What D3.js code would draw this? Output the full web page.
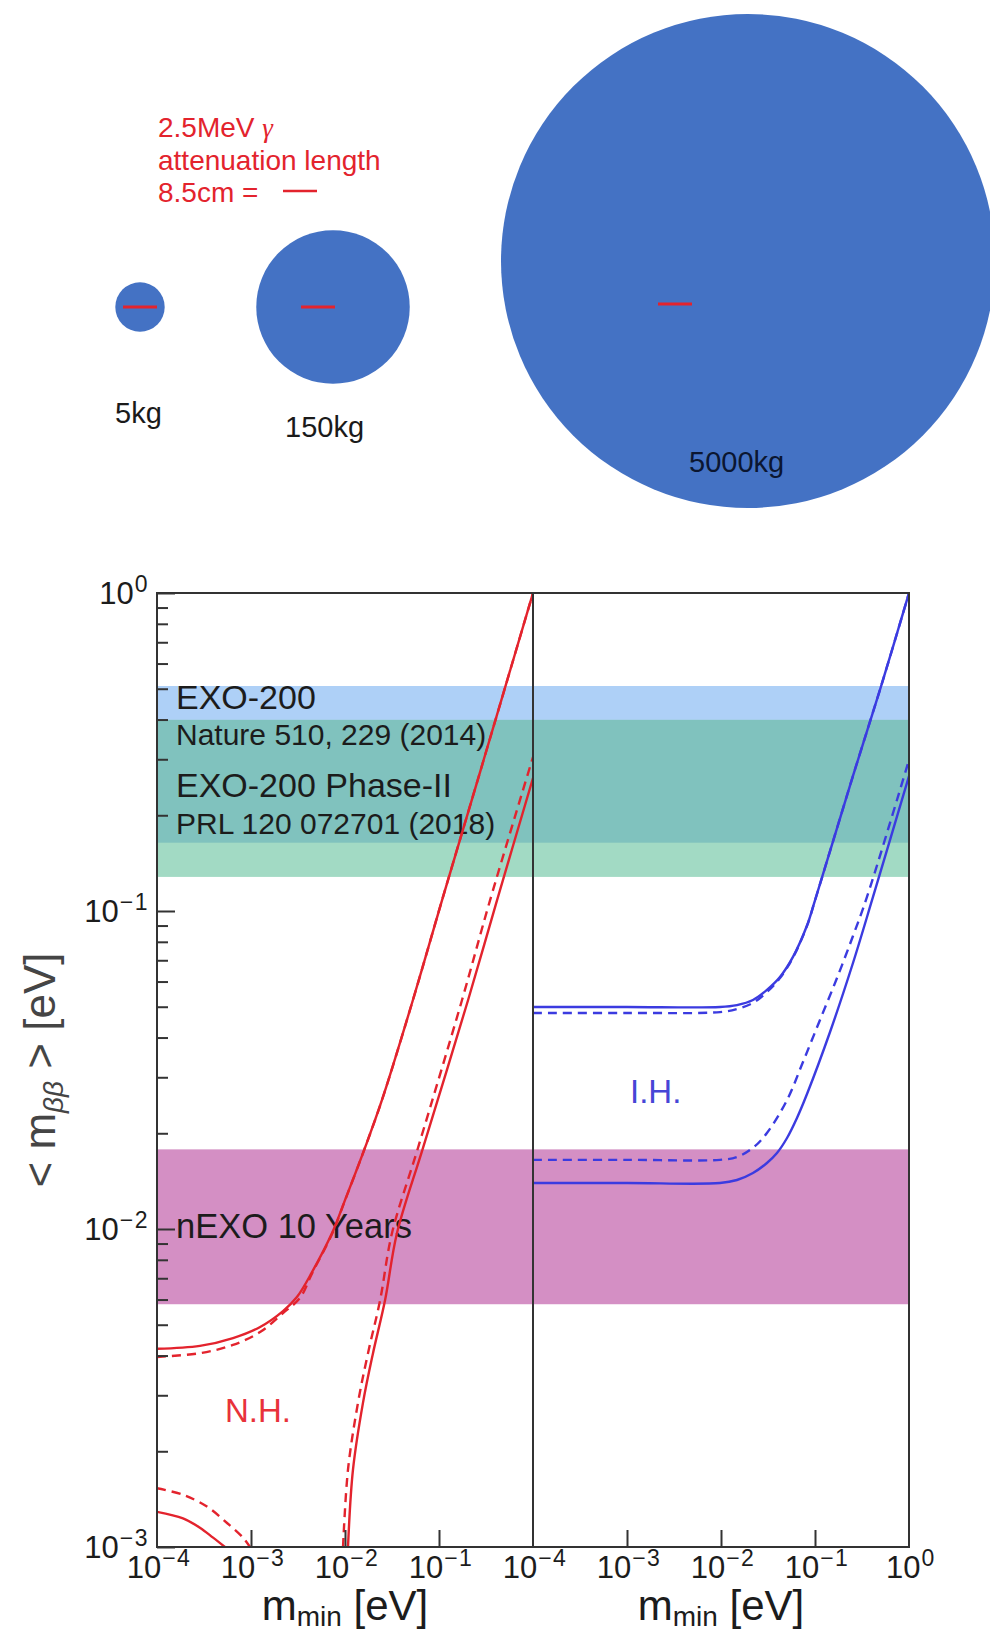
<!DOCTYPE html>
<html>
<head>
<meta charset="utf-8">
<script src="https://cdn.jsdelivr.net/npm/d3@7"></script>
<style>
  html, body { margin: 0; padding: 0; background: #fff; }
  svg { display: block; }
  text { font-family: "Liberation Sans", Arial, Helvetica, sans-serif; }
</style>
</head>
<body>
<svg id="fig" width="990" height="1631"></svg>
<script>
// ---------------- data ----------------
// Xe detector masses (kg), drawn as spheres with radius ∝ mass^(1/3)
const detectorMasses = [5, 150, 5000];
const detectorLabels = ["5kg", "150kg", "5000kg"];
const attenuationLines = ["2.5MeV ", "attenuation length", "8.5cm ="];

// experimental sensitivity bands on <m_bb> (eV)
const bandNames = ["EXO-200", "EXO-200 Phase-II", "nEXO 10 Years"];
const bandRefs = ["Nature 510, 229 (2014)", "PRL 120 072701 (2018)", ""];
const bandLow = [0.164, 0.128, 0.0058];
const bandHigh = [0.510, 0.399, 0.0178];

// axis ticks
const xMajorTicks = [1e-3, 1e-2, 1e-1];
const xLabelsLeft = [1e-4, 1e-3, 1e-2, 1e-1];
const xLabelsRight = [1e-4, 1e-3, 1e-2, 1e-1, 1];
const yMajorTicks = [1, 0.1, 0.01, 0.001];
const yMinorTicks = [0.9, 0.8, 0.7, 0.6, 0.5, 0.4, 0.3, 0.2,
                     0.09, 0.08, 0.07, 0.06, 0.05, 0.04, 0.03, 0.02,
                     0.009, 0.008, 0.007, 0.006, 0.005, 0.004, 0.003, 0.002];

// normal hierarchy: m_min (eV) vs <m_bb> (eV)
const nhMaxSolidM = [1e-4, 2.86e-4, 6.44e-4, 1.25e-3, 2.19e-3, 3.08e-3, 4.46e-3, 7.28e-3, 0.0100, 0.0163, 0.0248, 0.0528, 0.1076, 0.30, 1.0];
const nhMaxSolidV = [0.00420, 0.00429, 0.00454, 0.00492, 0.00552, 0.00611, 0.00732, 0.00971, 0.01233, 0.0180, 0.0255, 0.0525, 0.108, 0.30, 1.0];
const nhMaxDashM = [1e-4, 2.86e-4, 6.44e-4, 1.25e-3, 2.19e-3, 3.32e-3, 4.46e-3, 7.28e-3, 0.0100, 0.0163, 0.0248, 0.0528, 0.1076, 0.30, 1.0];
const nhMaxDashV = [0.00396, 0.00407, 0.00432, 0.00474, 0.00544, 0.00607, 0.00725, 0.00965, 0.0123, 0.0180, 0.0255, 0.0525, 0.108, 0.30, 1.0];
const nhMinSolidLoM = [1e-4, 1.89e-4, 2.86e-4, 3.95e-4, 5.28e-4];
const nhMinSolidLoV = [0.00129, 0.00123, 0.00115, 0.00107, 0.00100];
const nhMinSolidHiM = [0.01076, 0.01216, 0.01553, 0.01986, 0.0267, 0.0357, 0.0676, 0.204, 0.414, 1.0];
const nhMinSolidHiV = [0.00100, 0.00175, 0.00284, 0.00407, 0.00598, 0.0097, 0.0180, 0.0525, 0.108, 0.262];
const nhMinDashLoM = [1e-4, 1.89e-4, 3.40e-4, 5.56e-4, 8.22e-4, 9.75e-4];
const nhMinDashLoV = [0.00153, 0.00146, 0.00134, 0.00119, 0.00107, 0.00100];
const nhMinDashHiM = [0.00953, 0.01076, 0.01374, 0.01757, 0.02355, 0.0316, 0.0598, 0.1758, 0.349, 1.0];
const nhMinDashHiV = [0.00100, 0.00175, 0.00284, 0.00407, 0.00594, 0.0097, 0.0180, 0.0525, 0.108, 0.305];

// inverted hierarchy
const ihMaxSolidM = [1e-4, 1e-3, 0.00975, 0.01479, 0.02188, 0.0308, 0.0424, 0.0583, 0.0822, 0.100, 0.2535, 0.528, 1.0];
const ihMaxSolidV = [0.0499, 0.0499, 0.0499, 0.0506, 0.0525, 0.0565, 0.0620, 0.0717, 0.0900, 0.108, 0.266, 0.532, 1.0];
const ihMaxDashM = [1e-4, 1e-3, 0.00975, 0.01479, 0.02188, 0.0308, 0.0424, 0.0583, 0.0822, 0.100, 0.2535, 0.528, 1.0];
const ihMaxDashV = [0.0478, 0.0478, 0.0481, 0.0492, 0.0514, 0.0556, 0.0615, 0.0714, 0.0898, 0.108, 0.266, 0.532, 1.0];
const ihMinSolidM = [1e-4, 1e-3, 0.00975, 0.01479, 0.02188, 0.0308, 0.0394, 0.0504, 0.0643, 0.0822, 0.1445, 0.2535, 0.414, 1.0];
const ihMinSolidV = [0.01395, 0.01395, 0.01395, 0.01426, 0.0150, 0.01613, 0.01734, 0.01933, 0.02234, 0.02657, 0.04164, 0.06862, 0.1107, 0.2657];
const ihMinDashM = [1e-4, 1e-3, 0.00975, 0.01479, 0.02188, 0.0308, 0.0504, 0.0745, 0.1130, 0.1714, 0.2535, 0.3573, 1.0];
const ihMinDashV = [0.0165, 0.0165, 0.0165, 0.01684, 0.0180, 0.02004, 0.02544, 0.03351, 0.04544, 0.06155, 0.08344, 0.1107, 0.2985];

// ---------------- drawing ----------------
const svg = d3.select("#fig");
svg.append("rect").attr("width", 990).attr("height", 1631).attr("fill", "#fff");

const RED = "#e3232d";
const BLUE = "#3b3be0";
const INK = "#1c1c1c";

// ---- sphere size comparison ----
const sphereLayout = [
  { cx: 140, cy: 307, lx: 115, ly: 423, segX: 123, segY: 307, ink: "#1a1a1a" },
  { cx: 333, cy: 307, lx: 285, ly: 437, segX: 301, segY: 307, ink: "#1a1a1a" },
  { cx: 748, cy: 261, lx: 689, ly: 472, segX: 658, segY: 304, ink: "#0b1631" }
];
const segLen = 34; // 8.5 cm attenuation length on the drawing scale
const rScale = d3.scalePow().exponent(1 / 3).domain([0, 5000]).range([0, 247]);

const spheres = svg.append("g");
detectorMasses.forEach((m, i) => {
  const L = sphereLayout[i];
  spheres.append("circle")
    .attr("cx", L.cx).attr("cy", L.cy).attr("r", rScale(m))
    .attr("fill", "#4472c4");
  spheres.append("line")
    .attr("x1", L.segX).attr("x2", L.segX + segLen)
    .attr("y1", L.segY).attr("y2", L.segY)
    .attr("stroke", RED).attr("stroke-width", 3);
  spheres.append("text")
    .attr("x", L.lx).attr("y", L.ly)
    .attr("font-family", "Lato, 'Open Sans', sans-serif")
    .attr("font-size", 29).attr("fill", L.ink)
    .text(detectorLabels[i]);
});

const att = svg.append("g").attr("fill", RED).attr("font-size", 28);
const attBase = [137, 170, 202];
attenuationLines.forEach((s, i) => {
  const t = att.append("text").attr("x", 158).attr("y", attBase[i]).text(s);
  if (i === 0) {
    t.append("tspan")
      .attr("font-family", "'Liberation Serif', 'Times New Roman', serif")
      .attr("font-style", "italic").attr("font-size", 27)
      .text("γ");
  }
});
att.append("line")
  .attr("x1", 283).attr("x2", 283 + segLen).attr("y1", 191).attr("y2", 191)
  .attr("stroke", RED).attr("stroke-width", 2.5);

// ---- m_bb vs m_min panels ----
const P = { top: 593, bottom: 1547, left: 157, mid: 533, right: 909 };
const y = d3.scaleLog().domain([1e-3, 1]).range([P.bottom, P.top]);
const xL = d3.scaleLog().domain([1e-4, 1]).range([P.left, P.mid]);
const xR = d3.scaleLog().domain([1e-4, 1]).range([P.mid, P.right]);

const defs = svg.append("defs");
defs.append("clipPath").attr("id", "clipL").append("rect")
  .attr("x", P.left).attr("y", P.top).attr("width", P.mid - P.left).attr("height", P.bottom - P.top);
defs.append("clipPath").attr("id", "clipR").append("rect")
  .attr("x", P.mid).attr("y", P.top).attr("width", P.right - P.mid).attr("height", P.bottom - P.top);

// bands: EXO-200, Phase-II, their overlap, nEXO
const bands = svg.append("g");
const bandColors = ["#aed0f7", "#a2dac4", "#d48fc4"];
[0, 1, 2].forEach(i => {
  bands.append("rect")
    .attr("x", P.left).attr("width", P.right - P.left)
    .attr("y", y(bandHigh[i])).attr("height", y(bandLow[i]) - y(bandHigh[i]))
    .attr("fill", bandColors[i]);
});
const ovHi = Math.min(bandHigh[0], bandHigh[1]);
const ovLo = Math.max(bandLow[0], bandLow[1]);
bands.append("rect")
  .attr("x", P.left).attr("width", P.right - P.left)
  .attr("y", y(ovHi)).attr("height", y(ovLo) - y(ovHi))
  .attr("fill", "#80c2be");

// band annotations
const ann = svg.append("g").attr("fill", INK);
const annLayout = [
  { t: bandNames[0], size: 34, yb: 709 },
  { t: bandRefs[0], size: 30, yb: 745 },
  { t: bandNames[1], size: 34, yb: 797 },
  { t: bandRefs[1], size: 30, yb: 834 },
  { t: bandNames[2], size: 34.5, yb: 1238 }
];
annLayout.forEach(a => {
  ann.append("text").attr("x", 176).attr("y", a.yb).attr("font-size", a.size).text(a.t);
});

// curves
const zip = (ms, vs) => ms.map((m, i) => [m, vs[i]]);
function drawCurve(xs, pts, color, dashed, clip) {
  const line = d3.line().x(d => xs(d[0])).y(d => y(d[1])).curve(d3.curveCatmullRom.alpha(0.5));
  svg.append("path")
    .attr("clip-path", `url(#${clip})`)
    .attr("d", line(pts))
    .attr("fill", "none")
    .attr("stroke", color)
    .attr("stroke-width", 2.4)
    .attr("stroke-dasharray", dashed ? "9,6" : null);
}
drawCurve(xL, zip(nhMaxSolidM, nhMaxSolidV), RED, false, "clipL");
drawCurve(xL, zip(nhMaxDashM, nhMaxDashV), RED, true, "clipL");
drawCurve(xL, zip(nhMinSolidLoM, nhMinSolidLoV), RED, false, "clipL");
drawCurve(xL, zip(nhMinSolidHiM, nhMinSolidHiV), RED, false, "clipL");
drawCurve(xL, zip(nhMinDashLoM, nhMinDashLoV), RED, true, "clipL");
drawCurve(xL, zip(nhMinDashHiM, nhMinDashHiV), RED, true, "clipL");
drawCurve(xR, zip(ihMaxSolidM, ihMaxSolidV), BLUE, false, "clipR");
drawCurve(xR, zip(ihMaxDashM, ihMaxDashV), BLUE, true, "clipR");
drawCurve(xR, zip(ihMinSolidM, ihMinSolidV), BLUE, false, "clipR");
drawCurve(xR, zip(ihMinDashM, ihMinDashV), BLUE, true, "clipR");

// hierarchy labels
svg.append("text").attr("x", 225).attr("y", 1422).attr("font-size", 33)
  .attr("fill", "#e8323a").text("N.H.");
svg.append("text").attr("x", 630).attr("y", 1103).attr("font-size", 33)
  .attr("fill", "#4646d6").text("I.H.");

// frame and divider
const frame = svg.append("g").attr("stroke", "#333").attr("stroke-width", 2).attr("fill", "none");
frame.append("rect").attr("x", P.left).attr("y", P.top)
  .attr("width", P.right - P.left).attr("height", P.bottom - P.top);
frame.append("line").attr("x1", P.mid).attr("x2", P.mid).attr("y1", P.top).attr("y2", P.bottom);

// y axis ticks (inside)
function styleAxis(g) {
  g.select(".domain").remove();
  g.selectAll(".tick line").attr("stroke", "#333").attr("stroke-width", 2);
}
svg.append("g").attr("transform", `translate(${P.left},0)`)
  .call(d3.axisRight(y).tickValues(yMinorTicks).tickSize(11).tickFormat(""))
  .call(styleAxis);
svg.append("g").attr("transform", `translate(${P.left},0)`)
  .call(d3.axisRight(y).tickValues(yMajorTicks).tickSize(18).tickFormat(""))
  .call(styleAxis);

// x axis ticks (inside, pointing up)
[xL, xR].forEach(xs => {
  svg.append("g").attr("transform", `translate(0,${P.bottom})`)
    .call(d3.axisTop(xs).tickValues(xMajorTicks).tickSize(17).tickFormat(""))
    .call(styleAxis);
});

// power-of-ten tick labels
function powLabel(x, yb, v, anchor) {
  const e = Math.round(Math.log10(v));
  const t = svg.append("text").attr("x", x).attr("y", yb)
    .attr("text-anchor", anchor).attr("font-size", 31).attr("fill", INK);
  t.append("tspan").text("10");
  t.append("tspan").attr("font-size", 23).attr("dy", -12).attr("dx", 1)
    .attr("letter-spacing", 1.5)
    .text(e === 0 ? "0" : "\u2212" + Math.abs(e));
}
yMajorTicks.forEach(v => powLabel(149, y(v) + 11, v, "end"));
xLabelsLeft.forEach(v => powLabel(xL(v) + 2, P.bottom + 31, v, "middle"));
xLabelsRight.forEach(v => powLabel(xR(v) + 2, P.bottom + 31, v, "middle"));

// axis titles
const yt = svg.append("text")
  .attr("transform", "translate(55,1070) rotate(-90)")
  .attr("text-anchor", "middle").attr("font-size", 44).attr("fill", "#454545");
yt.append("tspan").text("< m");
yt.append("tspan").attr("font-size", 28).attr("font-style", "italic").attr("dy", 8).text("ββ");
yt.append("tspan").attr("dy", -8).text(" > [eV]");

[xL, xR].forEach(xs => {
  const cx = (xs.range()[0] + xs.range()[1]) / 2;
  const t = svg.append("text").attr("x", cx).attr("y", 1620)
    .attr("text-anchor", "middle").attr("font-size", 42).attr("fill", INK);
  t.append("tspan").text("m");
  t.append("tspan").attr("font-size", 28).attr("dy", 6).text("min");
  t.append("tspan").attr("dy", -6).text(" [eV]");
});
</script>
</body>
</html>
